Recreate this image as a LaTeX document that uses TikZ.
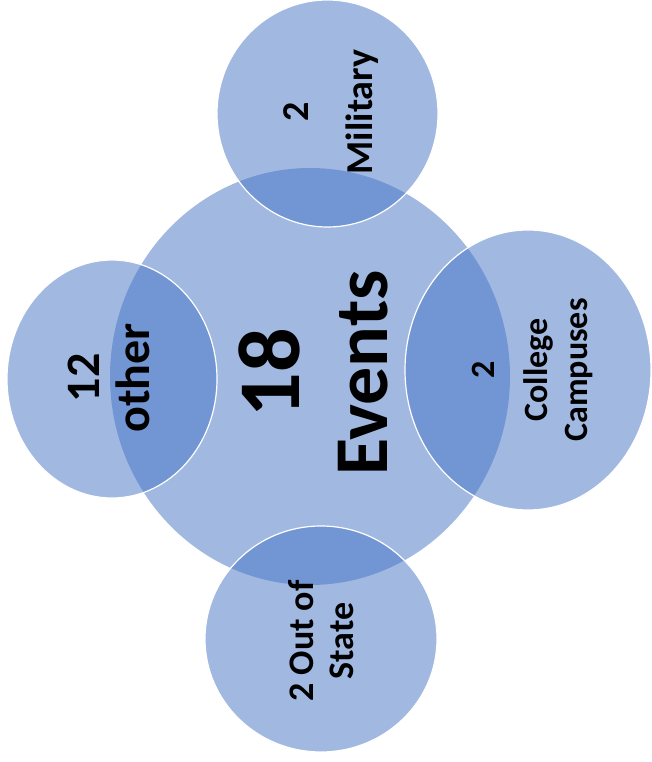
\documentclass[tikz,border=0pt]{standalone}
\usepackage{fontspec}
\setmainfont{Carlito}
\definecolor{accent}{HTML}{4472C4}
\begin{document}
\begin{tikzpicture}[x=1pt, y=-1pt,
  circ/.style={fill=accent, fill opacity=0.5},
  rim/.style={draw=white, draw opacity=1, line width=1.2pt},
  lbl/.style={rotate=90, align=center, inner sep=0pt, text=black}]
\useasboundingbox (0,0) rectangle (651,762);
% centre circle
\fill[circ] (310,376.5) ellipse [x radius=200, y radius=208.5];
% outer circles
\filldraw[circ, rim] (327.5,113.5) ellipse [x radius=110.5, y radius=113.5];
\filldraw[circ, rim] (528,370) ellipse [x radius=123, y radius=140];
\filldraw[circ, rim] (112,379) ellipse [x radius=105, y radius=119];
\filldraw[circ, rim] (321,639) ellipse [x radius=116, y radius=113];
% labels
\node[lbl, font=\fontsize{76}{88}\bfseries\selectfont] (events) at (313,373)
  {{\fontsize{88}{88}\selectfont 18}\\Events};
\node[lbl, font=\fontsize{38}{64}\bfseries\selectfont] (military) at (331.5,112) {2\\Military};
\node[lbl, font=\fontsize{34}{40}\bfseries\selectfont] (college) at (533,370) {2\\[13pt]College\\Campuses};
\node[lbl, font=\fontsize{48}{50}\bfseries\selectfont] (other) at (108.5,378) {12\\other};
\node[lbl, font=\fontsize{36}{40}\bfseries\selectfont] (outstate) at (321.5,641) {2 Out of\\State};
\end{tikzpicture}
\end{document}
